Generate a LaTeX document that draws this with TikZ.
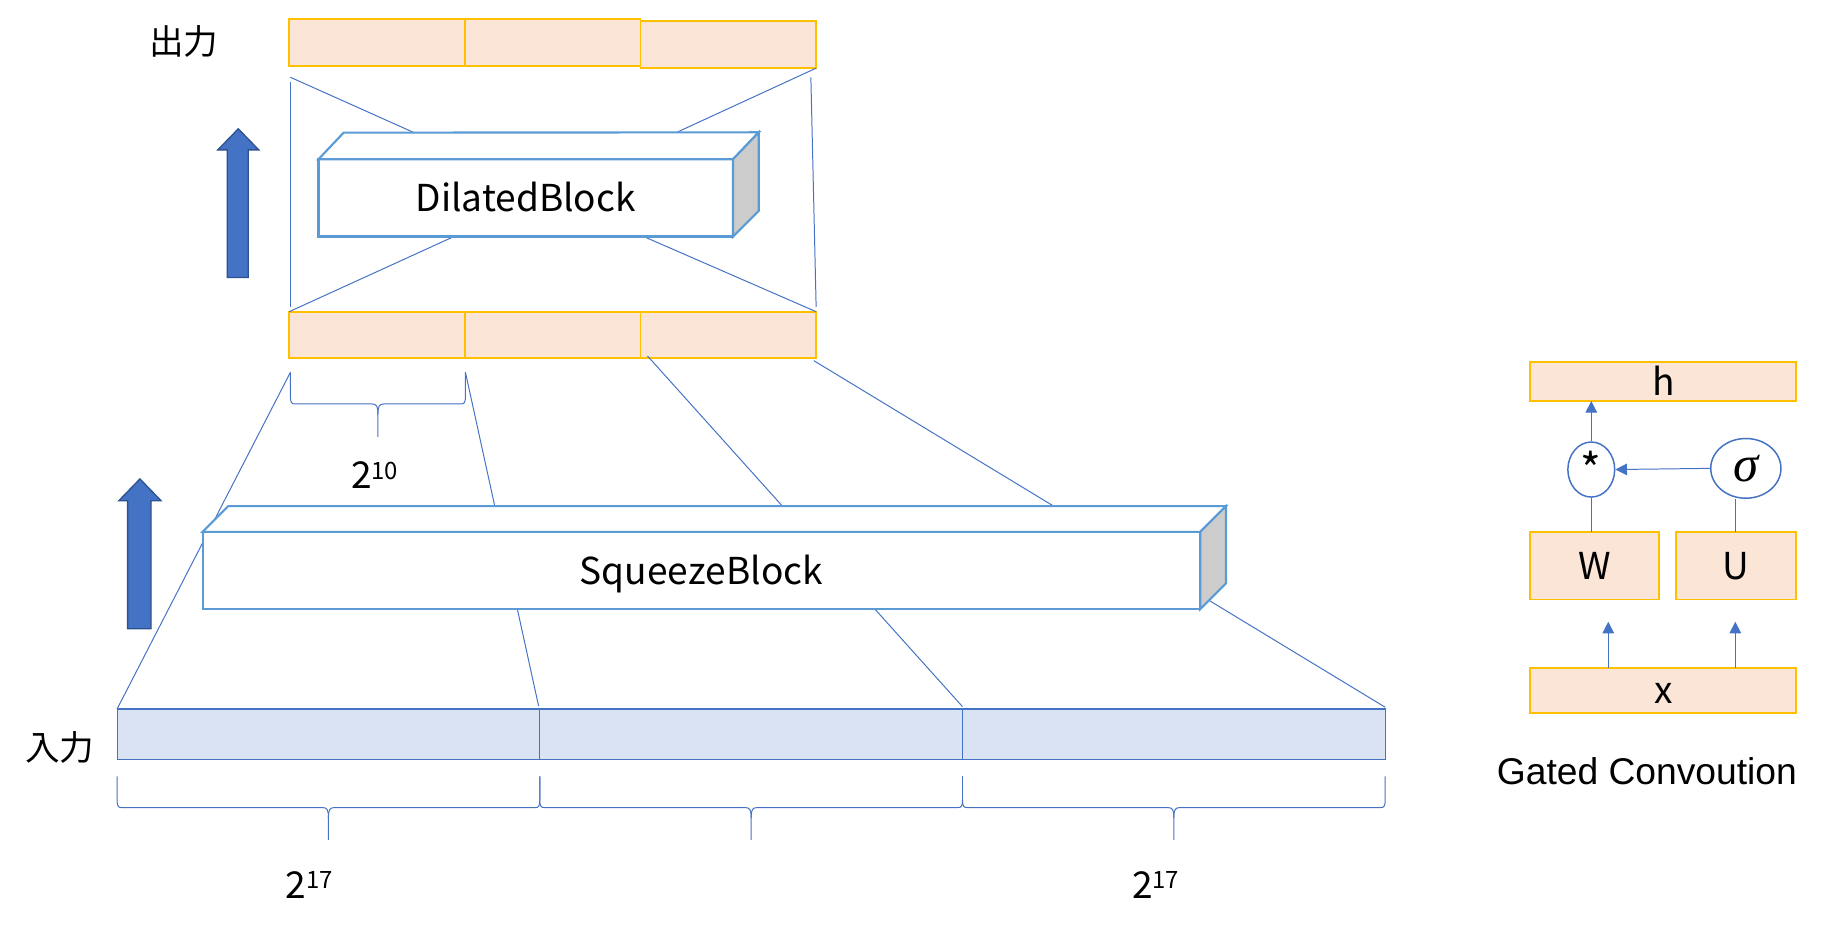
\documentclass[tikz,border=0pt]{standalone}
\usepackage{fontspec}
\newfontfamily\jpfont{Noto Sans CJK JP}
\newfontfamily\arialfont{Liberation Sans}
\newfontfamily\serffont{Liberation Serif}
\usetikzlibrary{arrows.meta,calc,shapes.geometric}
\definecolor{orfill}{HTML}{FBE5D6}
\definecolor{orline}{HTML}{FFC000}
\definecolor{infill}{HTML}{DAE3F3}
\definecolor{bline}{HTML}{4472C4}
\definecolor{blkline}{HTML}{5B9BD5}
\definecolor{darkb}{HTML}{2F528F}
\definecolor{sidegray}{HTML}{CCCCCC}
\newdimen\upx \upx=0.025cm
\newcommand\pw[2]{#1\raisebox{5.6pt}{\fontsize{14.5}{16}\selectfont #2}}
\newcommand\mybrace[5]{%
 \pgfmathsetmacro\brmid{(#1+#2)/2}%
 \draw[conn] ({#1},{#3}) -- ({#1},{#4-7}) .. controls ({#1},{#4-1}) and ({#1+1},{#4}) .. ({#1+4},{#4}) -- ({\brmid-5},{#4}) .. controls ({\brmid-1},{#4}) and ({\brmid},{#4+2}) .. ({\brmid},{#4+9}) -- ({\brmid},{#5});
 \draw[conn] ({\brmid},{#4+9}) .. controls ({\brmid},{#4+2}) and ({\brmid+1},{#4}) .. ({\brmid+5},{#4}) -- ({#2-4},{#4}) .. controls ({#2-1},{#4}) and ({#2},{#4-1}) .. ({#2},{#4-7}) -- ({#2},{#3});}
\begin{document}
\begin{tikzpicture}[x={(0.025cm,0)}, y={(0,-0.025cm)},
  txt/.style={font=\jpfont\fontsize{22.5}{27}\selectfont, inner sep=0pt},
  obox/.style={draw=orline, fill=orfill, line width=1.1pt, minimum width=150\upx, minimum height=40\upx, inner sep=0pt, outer sep=0pt, txt, text height=16.5pt, text depth=0pt},
  ibox/.style={draw=bline, fill=infill, line width=0.7pt, minimum width=361\upx, minimum height=43\upx, inner sep=0pt, outer sep=0pt},
  face/.style={draw=blkline, fill=white, line width=1.3pt, inner sep=0pt, outer sep=0pt, txt, text height=16.5pt, text depth=0pt},
  blk/.style={draw=blkline, line width=1.3pt, line join=miter},
  conn/.style={draw=bline, line width=0.6pt},
  arr/.style={conn, -{Triangle[length=7pt,width=7pt]}},
  circ/.style={draw=bline, line width=0.9pt, ellipse, inner sep=0pt, fill=white},
  bigarrow/.style={draw=darkb, fill=bline, line width=0.8pt}
]
\useasboundingbox (0,0) rectangle (1568,794);

% ---- rows ----
\node[obox] (o1) at (322,36.3) {};
\node[obox] (o2) at (472,36.3) {};
\node[obox] (o3) at (622,38.2) {};
\node[obox, minimum height=39.2\upx] (m1) at (322,285.8) {};
\node[obox, minimum height=39.2\upx] (m2) at (472,285.8) {};
\node[obox, minimum height=39.2\upx] (m3) at (622,285.8) {};
\node[ibox] (i1) at (280.5,627) {};
\node[ibox] (i2) at (641.5,627) {};
\node[ibox] (i3) at (1002.5,627) {};

% ---- connector points ----
\coordinate (ta1) at (248,66);
\coordinate (tb1) at (353,113);
\coordinate (tb2) at (578,113);
\coordinate (vl1) at (248,70);
\coordinate (vl2) at (248,262);
\coordinate (vr1) at (692.5,66);
\coordinate (vr2) at (697,262);
\coordinate (db1) at (385.5,203);
\coordinate (db2) at (552,203);
\coordinate (s1) at (248,318);
\coordinate (s2) at (397.5,318);
\coordinate (s3) at (553,304);
\coordinate (s4) at (695,308);
\coordinate (e2) at (460,603);
\coordinate (e3) at (822,603.5);
\coordinate (e4) at (1183,604);

% ---- connectors (behind blocks) ----
\draw[conn] (ta1) -- (tb1);
\draw[conn] (o3.south east) -- (tb2);
\draw[conn] (vl1) -- (vl2);
\draw[conn] (vr1) -- (vr2);
\draw[conn] (db1) -- (m1.north west);
\draw[conn] (db2) -- (m3.north east);
\draw[conn] (s1) -- (i1.north west);
\draw[conn] (s2) -- (e2);
\draw[conn] (s3) -- (e3);
\draw[conn] (s4) -- (e4);

% ---- DilatedBlock ----
\node[face, minimum width=354\upx, minimum height=66\upx] (dil) at (449,169) {DilatedBlock};
\draw[blk, fill=white] (dil.north west) -- ++(21.5,-22.7) -- ($(dil.north east)+(22,-23)$) -- (dil.north east) -- cycle;
\draw[blk, fill=sidegray] (dil.north east) -- ++(22,-23) -- ++(0,67) -- (dil.south east) -- cycle;

% ---- SqueezeBlock ----
\node[face, minimum width=852\upx, minimum height=66\upx] (sq) at (599,487.2) {SqueezeBlock};
\draw[blk, fill=white] (sq.north west) -- ++(22,-22) -- ($(sq.north east)+(22,-22)$) -- (sq.north east) -- cycle;
\draw[blk, fill=sidegray] (sq.north east) -- ++(22,-22) -- ++(0,66) -- (sq.south east) -- cycle;

% ---- braces ----
\mybrace{248}{397.5}{318}{345}{373}
\mybrace{100}{461}{663}{689.7}{717.3}
\mybrace{461}{822}{663}{689.7}{717.3}
\mybrace{822}{1183}{663}{689.7}{717.3}

% ---- labels ----
\node[txt, font=\jpfont\fontsize{21}{25}\selectfont] (lout) at (157,35) {出力};
\node[txt, font=\jpfont\fontsize{21}{25}\selectfont] (lin) at (51,638) {入力};
\node[txt, anchor=base] (p10) at (320,417) {\pw{2}{10}};
\node[txt, anchor=base] (p17a) at (264,767) {\pw{2}{17}};
\node[txt, anchor=base] (p17b) at (987,767) {\pw{2}{17}};

% ---- big arrows ----
\draw[bigarrow] (194,237) -- (194,128) -- (186,128) -- (203.5,110) -- (221,128) -- (212,128) -- (212,237) -- cycle;
\draw[bigarrow] (109,537) -- (109,427.6) -- (101.5,427.6) -- (119.5,409) -- (137.5,427.6) -- (129,427.6) -- (129,537) -- cycle;

% ---- Gated convolution ----
\node[obox, minimum width=227\upx, minimum height=33\upx] (h) at (1420.5,326) {h};
\node[obox, minimum width=110\upx, minimum height=58\upx] (W) at (1362,483) {W};
\node[obox, minimum width=103\upx, minimum height=58\upx] (U) at (1482.5,483) {U};
\node[obox, minimum width=227\upx, minimum height=38\upx] (x) at (1420.5,589.6) {x};
\node[circ, minimum width=40\upx, minimum height=47\upx, font=\jpfont\fontsize{27}{30}\selectfont, text height=20pt, text depth=0pt] (mul) at (1359,401) {*};
\node[circ, minimum width=60\upx, minimum height=51\upx, font=\serffont\itshape\fontsize{31}{34}\selectfont] (sig) at (1491,400) {σ};
\coordinate (aw) at (1373.5,531);
\coordinate (au) at (1482,531);
\draw[conn] (W.north -| mul.south) -- (mul.south);
\draw[arr] (mul.north) -- (mul.north |- h.south);
\draw[arr] (sig.west) -- (mul.east);
\draw[conn] (U.north) -- (U.north |- sig.south);
\draw[arr] (x.north -| aw) -- (aw);
\draw[arr] (x.north -| au) -- (au);
\node[inner sep=0pt, font=\arialfont\fontsize{22.6}{27}\selectfont] (gc) at (1406.5,659) {Gated Convoution};
\end{tikzpicture}
\end{document}
